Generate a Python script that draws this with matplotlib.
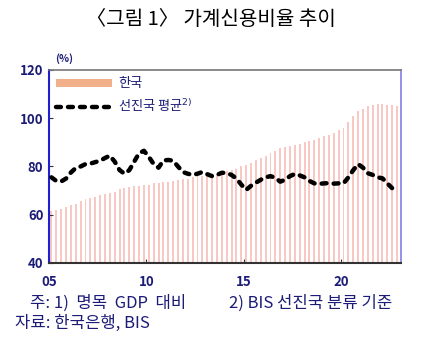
import matplotlib
matplotlib.use("Agg")
import matplotlib.pyplot as plt
import numpy as np

plt.rcParams['font.family'] = ['Noto Sans CJK KR', 'DejaVu Sans']

# ── Data (quarterly, 2005Q1 ~ 2022Q4) ────────────────────────────────
korea = [
    61.5, 62.0, 62.5, 63.0,   # 2005
    64.0, 64.5, 65.5, 66.5,   # 2006
    67.0, 67.5, 68.0, 68.5,   # 2007
    69.0, 69.5, 70.5, 71.0,   # 2008
    71.5, 72.0, 72.0, 72.5,   # 2009
    72.5, 73.0, 73.0, 73.5,   # 2010
    73.5, 74.0, 74.5, 75.0,   # 2011
    75.0, 75.5, 76.0, 76.0,   # 2012
    76.0, 76.5, 77.0, 77.5,   # 2013
    78.0, 78.5, 79.0, 80.0,   # 2014
    80.5, 81.5, 82.5, 83.5,   # 2015
    84.5, 85.5, 86.5, 87.5,   # 2016
    88.0, 88.5, 89.0, 89.5,   # 2017
    90.0, 90.5, 91.0, 92.0,   # 2018
    92.5, 93.0, 94.0, 95.0,   # 2019
    96.0, 98.5, 101.0, 103.0,  # 2020
    104.0, 105.0, 105.5, 106.0,  # 2021
    106.0, 105.5, 105.5, 105.0,  # 2022
]
advanced = [
    75.5, 74.0, 73.8, 75.0, 77.5, 79.4, 80.0, 81.0, 81.2, 81.8,
    82.4, 83.5, 84.5, 82.0, 78.5, 77.0, 78.5, 82.0, 85.5, 86.5,
    84.0, 81.0, 79.5, 82.5, 82.7, 82.4, 80.0, 77.7, 77.0, 76.5,
    77.0, 77.7, 76.8, 76.0, 76.5, 77.4, 77.3, 76.5, 75.0, 72.5,
    70.3, 72.0, 73.3, 74.5, 75.5, 76.0, 75.3, 73.7, 74.5, 76.0,
    76.9, 76.3, 75.5, 74.0, 73.0, 72.8, 73.0, 73.1, 72.9, 73.0,
    73.0, 75.5, 78.5, 81.0, 79.5, 77.2, 76.5, 75.5, 75.1, 73.0,
    71.0,
]
x_ticks = [0, 20, 40, 60]
x_ticklabels = ["05", "10", "15", "20"]
y_ticks = [40, 60, 80, 100, 120]

navy = "#1c1c78"

fig = plt.figure(figsize=(4.21, 3.48), dpi=100)
ax = fig.add_axes([0.1164, 0.2443, 0.836, 0.5546])

xb = np.arange(len(korea)) + 0.5
ax.bar(xb, np.array(korea) - 40, bottom=40, width=0.4,
       color="#F8C8C4", edgecolor="none", zorder=1)
xl = np.arange(len(advanced)) + 0.5
ax.plot(xl, advanced, color="black", lw=3.2, linestyle=(0, (1.1, 1.6)),
        dash_capstyle="round", zorder=3)

ax.set_xlim(0, 72.3)
ax.set_ylim(40, 120)
ax.set_xticks(x_ticks)
ax.set_xticklabels(x_ticklabels)
ax.set_yticks(y_ticks)
ax.tick_params(axis="both", direction="in", length=3, labelsize=9.5,
               colors="#333333", labelcolor=navy)
ax.tick_params(axis="x", pad=9)
ax.tick_params(axis="y", pad=4)
for lab in ax.get_xticklabels() + ax.get_yticklabels():
    lab.set_fontweight("bold")

ax.spines["left"].set_color("#2020d0")
ax.spines["left"].set_linewidth(1.5)
ax.spines["bottom"].set_color("#333333")
ax.spines["bottom"].set_linewidth(1.5)
ax.spines["top"].set_color("#777777")
ax.spines["top"].set_linewidth(1.2)
ax.spines["right"].set_color("#8080e0")
ax.spines["right"].set_linewidth(1.2)

# legend (Korea first, then advanced-economy average)
h_bar = plt.Rectangle((0, 0), 1, 1, facecolor="#F2B08A", edgecolor="none")
h_line = plt.Line2D([], [], color="black", lw=3.2, linestyle=(0, (1.1, 1.6)),
                    dash_capstyle="round")
leg = ax.legend([h_bar, h_line], ["한국", "선진국 평균$^{2)}$"],
                loc="upper left", frameon=False, fontsize=9.5,
                handlelength=4.2, handleheight=0.55,
                borderaxespad=0.1, labelspacing=0.55, handletextpad=0.5,
                borderpad=0.45)
for t in leg.get_texts():
    t.set_color(navy)

fig.text(0.131, 0.823, "(%)", fontsize=7.5, color=navy, fontweight="bold")

# title and notes
fig.text(0.5, 0.943, "〈그림 1〉 가계신용비율 추이", ha="center", va="center",
         fontsize=14.5, color="black")
fig.text(0.072, 0.130, "주: 1)  명목  GDP  대비", fontsize=12, color=navy,
         va="center")
fig.text(0.545, 0.130, "2) BIS 선진국 분류 기준", fontsize=12,
         color=navy, va="center")
fig.text(0.036, 0.070, "자료: 한국은행, BIS", fontsize=12, color=navy,
         va="center")

fig.savefig("out.png", dpi=100)
